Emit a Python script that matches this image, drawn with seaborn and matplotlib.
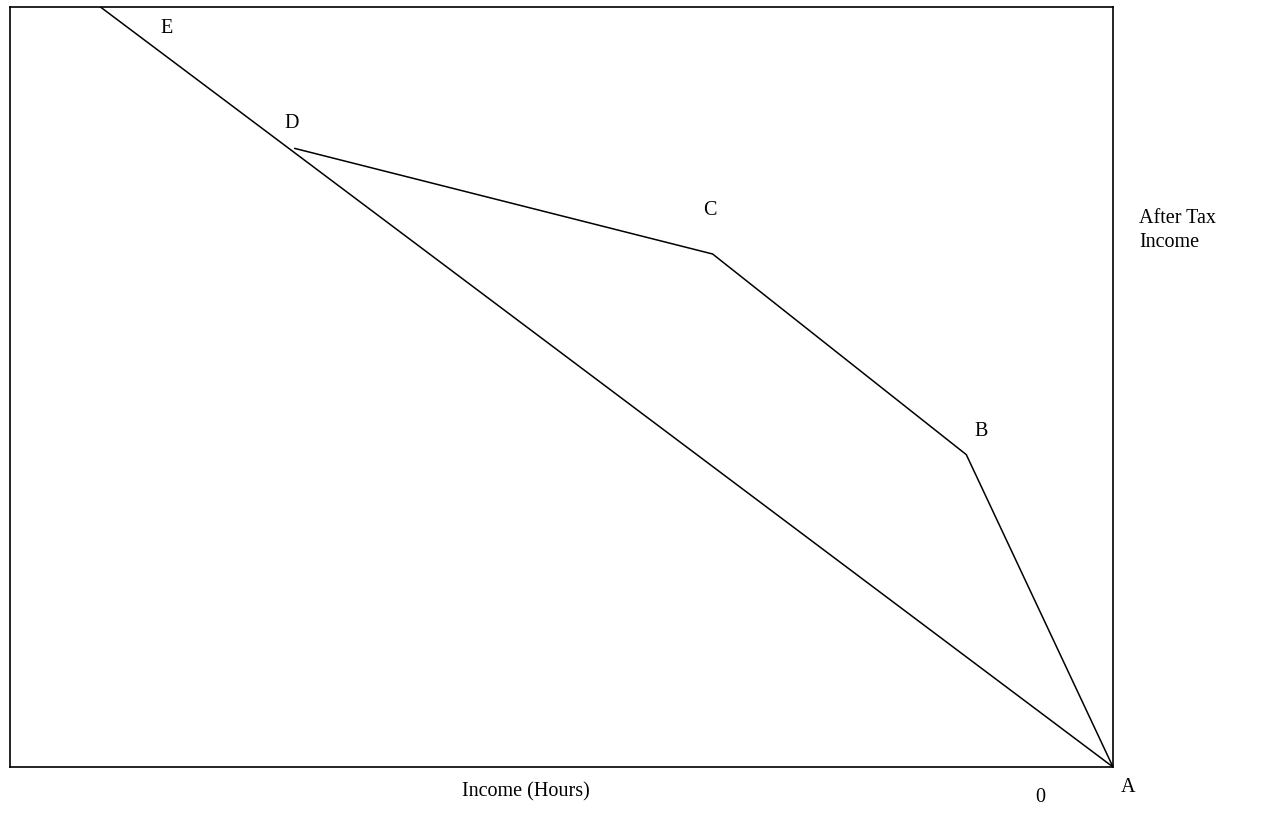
import pandas as pd
import matplotlib
matplotlib.use("Agg")
import matplotlib.pyplot as plt
import seaborn as sns

# budget lines, box runs 0..100 both ways (A is the corner at bottom right)
straight_x = [100, 8.2]
straight_y = [0, 100]
kinked_x = [100, 86.7, 63.7, 25.8]
kinked_y = [0, 41.1, 67.5, 81.4]
point_labels = ["A", "B", "C", "D", "E"]

sns.set_style("white")
plt.rcParams["font.family"] = ["Liberation Serif", "DejaVu Serif"]
plt.rcParams["text.color"] = "black"

fig = plt.figure(figsize=(12.61, 8.14), dpi=100)
ax = fig.add_axes([10 / 1261, 47 / 814, 1103 / 1261, 760 / 814])

df1 = pd.DataFrame({"x": straight_x, "y": straight_y})
df2 = pd.DataFrame({"x": kinked_x, "y": kinked_y})
sns.lineplot(data=df1, x="x", y="y", ax=ax, color="black", lw=1.1, sort=False)
sns.lineplot(data=df2, x="x", y="y", ax=ax, color="black", lw=1.1, sort=False)

ax.set_xlim(0, 100)
ax.set_ylim(0, 100)
ax.set_xticks([])
ax.set_yticks([])
ax.set_xlabel("")
ax.set_ylabel("")
for s in ax.spines.values():
    s.set_color("black")
    s.set_linewidth(1.2)

fs = 14.5
# point letters, offset from the kinks
ax.annotate(point_labels[0], (kinked_x[0], kinked_y[0]), xytext=(11, -14.5),
            textcoords="offset points", ha="center", va="center", fontsize=fs,
            annotation_clip=False)
ax.annotate(point_labels[1], (kinked_x[1], kinked_y[1]), xytext=(11, 17),
            textcoords="offset points", ha="center", va="center", fontsize=fs)
ax.annotate(point_labels[2], (kinked_x[2], kinked_y[2]), xytext=(-2, 31),
            textcoords="offset points", ha="center", va="center", fontsize=fs)
ax.annotate(point_labels[3], (kinked_x[3], kinked_y[3]), xytext=(-2, 18),
            textcoords="offset points", ha="center", va="center", fontsize=fs)
ax.text(0.142, 0.972, point_labels[4], transform=ax.transAxes,
        ha="center", va="center", fontsize=fs)

ax.text(0.468, -0.033, "Income (Hours)", transform=ax.transAxes,
        ha="center", va="center", fontsize=fs)
ax.text(0.934, -0.04, "0", transform=ax.transAxes,
        ha="center", va="center", fontsize=fs)
ax.text(1.024, 0.706, "After Tax\nIncome", transform=ax.transAxes,
        ha="left", va="center", fontsize=fs, linespacing=1.3)

fig.savefig("out.png", dpi=100)
